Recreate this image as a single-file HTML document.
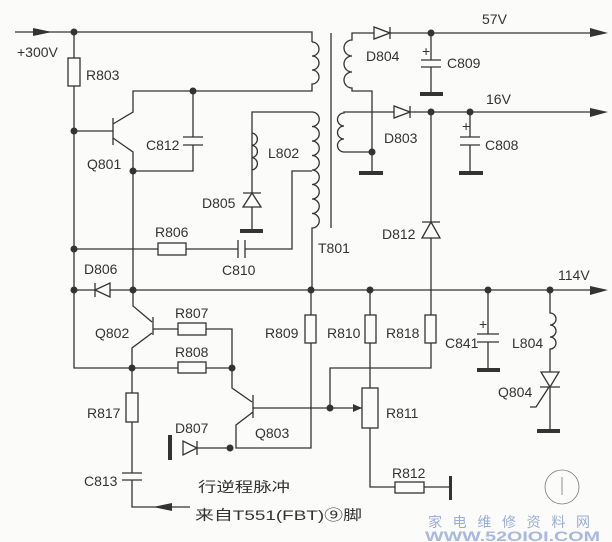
<!DOCTYPE html>
<html><head><meta charset="utf-8"><style>
html,body{margin:0;padding:0;background:#fbfbf9}
svg{display:block}
text{font-family:"Liberation Sans",sans-serif;fill:#333;font-size:14px}
.cn{font-family:"Liberation Sans","Noto Sans CJK SC",sans-serif}
</style></head><body>
<svg width="612" height="542" viewBox="0 0 612 542" xmlns="http://www.w3.org/2000/svg">
<g stroke="#333" stroke-width="1.3" fill="none">
<path d="M15 32 H312 V42"/>
<path d="M312 42 a7 7 0 0 1 0 14 a7 7 0 0 1 0 14 a7 7 0 0 1 0 14 V91 H133 V112 L113 124"/>
<path d="M252 170 V112 H312 a7.2 7.2 0 0 1 0 14.5 a7.2 7.2 0 0 1 0 14.5 a7.2 7.2 0 0 1 0 14.5 a7.2 7.2 0 0 1 0 14.5 a7.2 7.2 0 0 1 0 14.5 a7.2 7.2 0 0 1 0 14.5 a7.2 7.2 0 0 1 0 14.5 a7.2 7.2 0 0 1 0 14.5 V290"/>
<path d="M312 171 H292 V249 H245"/>
<path d="M331 33 V228"/>
<path d="M74 32 V368 H232"/>
<rect x="68" y="58" width="12" height="28" fill="#fbfbf9"/>
<path d="M74 131 H113 M113 118 V145 M113 138 L133 152 V171 H193 V145 M193 137 V91"/>
<path d="M183 137 H203 M183 145 H203"/>
<path d="M252 133 a6.2 6.2 0 0 1 0 12.3 a6.2 6.2 0 0 1 0 12.3 a6.2 6.2 0 0 1 0 12.3 V231"/>
<path d="M243 193 H261"/>
<path d="M74 249 H238"/>
<rect x="158" y="243" width="28" height="12" fill="#fbfbf9"/>
<path d="M238 240 V258 M245 240 V258"/>
<path d="M133 171 V306 L152 322 M153 317 V335 M153 329 H232 V368"/>
<path d="M152 333 L132 348 V393"/>
<rect x="178" y="323" width="28" height="12" fill="#fbfbf9"/>
<rect x="178" y="362" width="28" height="11" fill="#fbfbf9"/>
<path d="M74 290 H590"/>
<path d="M95 283 V297"/>
<rect x="126" y="393" width="12" height="29" fill="#fbfbf9"/>
<path d="M132 422 V473 M122 473 H142 M122 480 H142 M132 480 V507 H190"/>
<path d="M232 368 V388 L252 402 M253 395 V418 M253 408 H362 M253 412 L236 425 V448 H311 V290"/>
<path d="M197 448 H232"/>
<path d="M197 441 V455"/>
<rect x="305" y="315" width="11" height="28" fill="#fbfbf9"/>
<path d="M370 290 V388 M431 112 V315 M431 343 V368 H330 V408"/>
<rect x="365" y="315" width="11" height="28" fill="#fbfbf9"/>
<rect x="425" y="315" width="11" height="28" fill="#fbfbf9"/>
<rect x="362" y="388" width="16" height="40" fill="#fbfbf9"/>
<path d="M370 428 V487 H451"/>
<rect x="395" y="482" width="29" height="11" fill="#fbfbf9"/>
<path d="M422 222 H440"/>
<path d="M590 33 H352 V40 a8 8 0 0 0 0 16 a8 8 0 0 0 0 16 a8 8 0 0 0 0 16 V91 H372 V173"/>
<path d="M390 27 V39"/>
<path d="M431 33 V60 M421 60 H441 M421 67 H441 M431 67 V94"/>
<path d="M590 112 H344 V113 a6.5 6.5 0 0 0 0 13 a6.5 6.5 0 0 0 0 13 a6.5 6.5 0 0 0 0 13 H372"/>
<path d="M410 106 V118"/>
<path d="M470 112 V137 M460 137 H480 M460 145 H480 M470 145 V173"/>
<path d="M488 290 V334 M477 334 H499 M477 342 H499 M488 342 V370"/>
<path d="M550 290 V313 a6 6 0 0 1 0 12 a6 6 0 0 1 0 12 a6 6 0 0 1 0 12 V431"/>
<path d="M540 387 H560 M549 387 L536 407 H530"/>
<circle cx="562" cy="487" r="17" stroke-width="0.8" stroke="#777"/>
<path d="M562 477 V495" stroke-width="0.8" stroke="#777"/>
</g>
<g fill="#fbfbf9" stroke="#333" stroke-width="1.3">
<polygon points="374,27 374,39 390,33"/>
<polygon points="394,106 394,118 410,112"/>
<polygon points="243,207 261,207 252,193"/>
<polygon points="422,238 440,238 431,222"/>
<polygon points="110,283 110,297 95,290"/>
<polygon points="183,441 183,455 197,448"/>
<polygon points="541,372 559,372 550,387"/>
</g>
<g fill="#333" stroke="none">
<polygon points="33,28 33,36 52,32"/>
<polygon points="590,28 590,37 608,33"/>
<polygon points="590,108 590,117 608,112"/>
<polygon points="590,286 590,295 608,290"/>
<polygon points="153,507 172,503 172,511"/>
<polygon points="362,408 353,404 353,412"/>
<rect x="240" y="229" width="23" height="4"/>
<rect x="420" y="92" width="23" height="4"/>
<rect x="359" y="171" width="24" height="4"/>
<rect x="459" y="171" width="24" height="4"/>
<rect x="477" y="368" width="23" height="4"/>
<rect x="537" y="429" width="23" height="4"/>
<rect x="168" y="435" width="4" height="25"/>
<rect x="449" y="476" width="3" height="24"/>
<circle cx="74" cy="32" r="3.5"/><circle cx="74" cy="131" r="3.5"/><circle cx="74" cy="249" r="3.5"/><circle cx="74" cy="290" r="3.5"/>
<circle cx="193" cy="91" r="3.5"/><circle cx="133" cy="171" r="3.5"/><circle cx="133" cy="290" r="3.5"/>
<circle cx="132" cy="368" r="3.5"/><circle cx="232" cy="368" r="3.5"/><circle cx="230" cy="448" r="3.5"/>
<circle cx="311" cy="290" r="3.5"/><circle cx="370" cy="290" r="3.5"/><circle cx="488" cy="290" r="3.5"/><circle cx="550" cy="290" r="3.5"/>
<circle cx="330" cy="408" r="3.5"/>
<circle cx="431" cy="33" r="3.5"/><circle cx="431" cy="112" r="3.5"/><circle cx="470" cy="112" r="3.5"/><circle cx="372" cy="152" r="3.5"/>
</g>
<text x="17" y="57">+300V</text>
<text x="86" y="80">R803</text>
<text x="146" y="150">C812</text>
<text x="87" y="169">Q801</text>
<text x="268" y="158">L802</text>
<text x="202" y="208">D805</text>
<text x="155" y="237">R806</text>
<text x="222" y="275">C810</text>
<text x="84" y="274">D806</text>
<text x="318" y="253">T801</text>
<text x="482" y="24">57V</text>
<text x="366" y="61">D804</text>
<text x="447" y="68">C809</text>
<text x="486" y="104">16V</text>
<text x="384" y="143">D803</text>
<text x="485" y="150">C808</text>
<text x="382" y="239">D812</text>
<text x="558" y="280">114V</text>
<text x="175" y="318">R807</text>
<text x="95" y="338">Q802</text>
<text x="175" y="357">R808</text>
<text x="265" y="338">R809</text>
<text x="327" y="338">R810</text>
<text x="386" y="338">R818</text>
<text x="445" y="348">C841</text>
<text x="512" y="348">L804</text>
<text x="498" y="397">Q804</text>
<text x="386" y="418">R811</text>
<text x="87" y="418">R817</text>
<text x="175" y="433">D807</text>
<text x="255" y="438">Q803</text>
<text x="84" y="486">C813</text>
<text x="392" y="478">R812</text>
<text x="479" y="329" font-size="10">+</text>
<text x="462" y="131" font-size="10">+</text>
<text x="422" y="56" font-size="10">+</text>
<text class="cn" x="198" y="492" font-size="18" textLength="92" lengthAdjust="spacingAndGlyphs">行逆程脉冲</text>
<text class="cn" x="195" y="520" font-size="18" textLength="167" lengthAdjust="spacingAndGlyphs">来自T551(FBT)⑨脚</text>
<text class="cn" x="428" y="527" font-size="20" textLength="162" style="fill:#9aaed6">家电维修资料网</text>
<text x="425" y="541" font-size="15" font-weight="bold" style="fill:#a8b8de" textLength="175" lengthAdjust="spacingAndGlyphs">WWW.52OIOI.COM</text>
</svg>
</body></html>
